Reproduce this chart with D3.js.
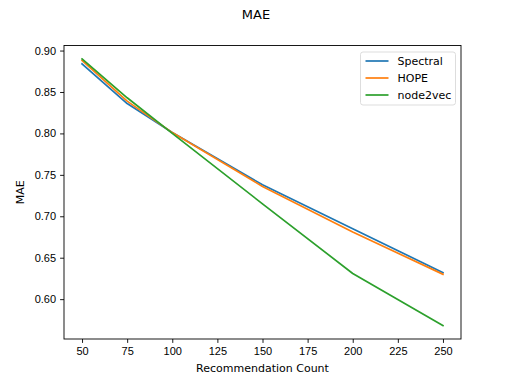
<!DOCTYPE html>
<html>
<head>
<meta charset="utf-8">
<script src="https://cdn.jsdelivr.net/npm/d3@7"></script>
<style>
  body { margin: 0; background: #fff; }
  svg { font-family: "DejaVu Sans", sans-serif; }
  .tick text { font-size: 11px; fill: #000; }
  .tick line { stroke: #000; stroke-width: 0.9; }
  .domain { display: none; }
</style>
</head>
<body>
<script>
var counts = [50, 75, 100, 150, 200, 250];
var spectral = [0.884, 0.836, 0.801, 0.738, 0.685, 0.632];
var hope = [0.888, 0.839, 0.801, 0.736, 0.681, 0.630];
var node2vec = [0.890, 0.843, 0.800, 0.715, 0.631, 0.568];
var xTicks = [50, 75, 100, 125, 150, 175, 200, 225, 250];
var yTicks = [0.60, 0.65, 0.70, 0.75, 0.80, 0.85, 0.90];

var series = [
  {name: "Spectral", values: spectral, color: "#1f77b4"},
  {name: "HOPE", values: hope, color: "#ff7f0e"},
  {name: "node2vec", values: node2vec, color: "#2ca02c"}
];

var W = 512, H = 382;
var margin = {top: 45.5, right: 51, bottom: 43, left: 64},
    width = W - margin.left - margin.right,
    height = H - margin.top - margin.bottom;

var svg = d3.select("body").append("svg")
    .attr("width", W)
    .attr("height", H);

var g = svg.append("g")
    .attr("transform", "translate(" + margin.left + "," + margin.top + ")");

// 5% padding like matplotlib
var xmin = d3.min(counts), xmax = d3.max(counts);
var xpad = (xmax - xmin) * 0.05;
var x = d3.scaleLinear().domain([xmin - xpad, xmax + xpad]).range([0, width]);

var all = spectral.concat(hope, node2vec);
var ymin = d3.min(all), ymax = d3.max(all);
var ypad = (ymax - ymin) * 0.05;
var y = d3.scaleLinear().domain([ymin - ypad, ymax + ypad]).range([height, 0]);

g.append("g")
    .attr("transform", "translate(0," + height + ")")
    .call(d3.axisBottom(x).tickValues(xTicks).tickSize(3.9).tickPadding(4.5).tickFormat(d3.format("d")));

g.append("g")
    .call(d3.axisLeft(y).tickValues(yTicks).tickSize(3.9).tickPadding(4).tickFormat(d3.format(".2f")));

var line = d3.line()
    .x(function(d, i) { return x(counts[i]); })
    .y(function(d) { return y(d); });

g.selectAll(".series")
    .data(series)
    .enter()
    .append("path")
    .attr("class", "series")
    .attr("d", function(d) { return line(d.values); })
    .attr("fill", "none")
    .attr("stroke", function(d) { return d.color; })
    .attr("stroke-width", 1.7)
    .attr("stroke-linejoin", "round")
    .attr("stroke-linecap", "square");

// frame
g.append("rect")
    .attr("width", width)
    .attr("height", height)
    .attr("fill", "none")
    .attr("stroke", "#000")
    .attr("stroke-width", 0.9);

// legend
var lg = g.append("g")
    .attr("transform", "translate(" + (width - 100.5) + "," + 6.5 + ")");

lg.append("rect")
    .attr("width", 95)
    .attr("height", 53)
    .attr("rx", 2.5)
    .attr("fill", "#fff")
    .attr("fill-opacity", 0.8)
    .attr("stroke", "#d9d9d9")
    .attr("stroke-width", 0.9);

var items = lg.selectAll(".item")
    .data(series)
    .enter()
    .append("g")
    .attr("class", "item")
    .attr("transform", function(d, i) { return "translate(0," + (9 + i * 17) + ")"; });

items.append("line")
    .attr("x1", 5).attr("x2", 28)
    .attr("stroke", function(d) { return d.color; })
    .attr("stroke-width", 1.7);

items.append("text")
    .attr("x", 37)
    .attr("dy", "0.35em")
    .style("font-size", "11px")
    .text(function(d) { return d.name; });

svg.append("text")
    .attr("x", W / 2)
    .attr("y", 19)
    .attr("text-anchor", "middle")
    .style("font-size", "13px")
    .text("MAE");

svg.append("text")
    .attr("x", margin.left + width / 2)
    .attr("y", 372)
    .attr("text-anchor", "middle")
    .style("font-size", "11px")
    .text("Recommendation Count");

svg.append("text")
    .attr("transform", "translate(24," + (margin.top + height / 2) + ") rotate(-90)")
    .attr("text-anchor", "middle")
    .style("font-size", "11px")
    .text("MAE");
</script>
</body>
</html>
